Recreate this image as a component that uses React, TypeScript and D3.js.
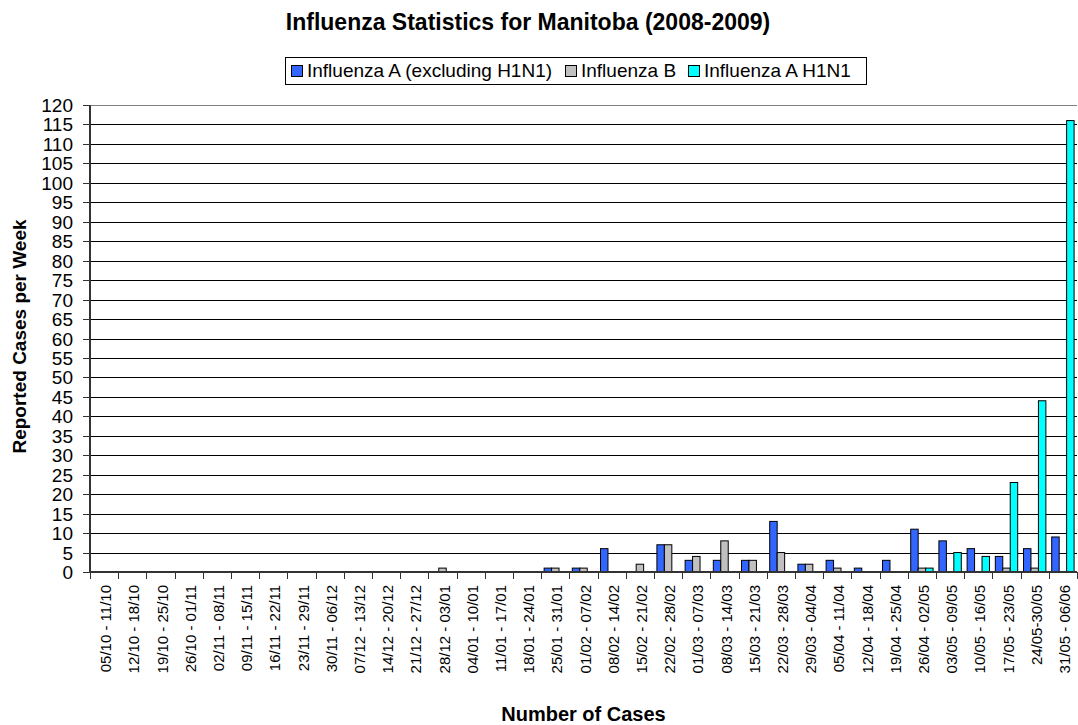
import React from 'react';
import * as d3 from 'd3';

const weeks = [
  '05/10 - 11/10', '12/10 - 18/10', '19/10 - 25/10', '26/10 - 01/11', '02/11 - 08/11',
  '09/11 - 15/11', '16/11 - 22/11', '23/11 - 29/11', '30/11 - 06/12', '07/12 - 13/12',
  '14/12 - 20/12', '21/12 - 27/12', '28/12 - 03/01', '04/01 - 10/01', '11/01 - 17/01',
  '18/01 - 24/01', '25/01 - 31/01', '01/02 - 07/02', '08/02 - 14/02', '15/02 - 21/02',
  '22/02 - 28/02', '01/03 - 07/03', '08/03 - 14/03', '15/03 - 21/03', '22/03 - 28/03',
  '29/03 - 04/04', '05/04 - 11/04', '12/04 - 18/04', '19/04 - 25/04', '26/04 - 02/05',
  '03/05 - 09/05', '10/05 - 16/05', '17/05 - 23/05', '24/05-30/05', '31/05 - 06/06',
];

const fluA = [0, 0, 0, 0, 0, 0, 0, 0, 0, 0, 0, 0, 0, 0, 0, 0, 1, 1, 6, 0, 7, 3, 3, 3, 13, 2, 3, 1, 3, 11, 8, 6, 4, 6, 9];
const fluB = [0, 0, 0, 0, 0, 0, 0, 0, 0, 0, 0, 0, 1, 0, 0, 0, 1, 1, 0, 2, 7, 4, 8, 3, 5, 2, 1, 0, 0, 1, 0, 0, 1, 1, 0];
const h1n1 = [0, 0, 0, 0, 0, 0, 0, 0, 0, 0, 0, 0, 0, 0, 0, 0, 0, 0, 0, 0, 0, 0, 0, 0, 0, 0, 0, 0, 0, 1, 5, 4, 23, 44, 116];

const seriesNames = ['Influenza A (excluding H1N1)', 'Influenza B', 'Influenza A H1N1'];
const seriesColors = ['#3366FF', '#C0C0C0', '#00FFFF'];
const yTicks = d3.range(0, 121, 5);

const W = 1078;
const H = 725;
const left = 90;
const right = 1077;
const top = 105;
const bottom = 572;
const font = 'Arial, "Liberation Sans", sans-serif';

export default function App() {
  const series = [fluA, fluB, h1n1];

  const x = d3.scaleBand<string>().domain(weeks).range([left, right]).padding(0);
  const inner = d3.scaleBand<number>()
    .domain([0, 1, 2])
    .range([0, x.bandwidth()])
    .paddingInner(0)
    .paddingOuter(0.39);
  const y = d3.scaleLinear().domain([0, 120]).range([bottom, top]);

  // legend layout (approx text widths at 19px)
  const legendW = [248, 97, 156];
  const legendX = 285;
  let lx = legendX + 6;
  const legendPos = legendW.map((w) => {
    const p = lx;
    lx += 16 + w + 10;
    return p;
  });
  const boxW = lx - legendX - 4;

  return (
    <svg width={W} height={H} style={{ position: 'absolute', left: 0, top: 0, background: '#fff' }}
      fontFamily={font}>
      <text x={528} y={30} textAnchor="middle" fontSize={23} fontWeight="bold">
        Influenza Statistics for Manitoba (2008-2009)
      </text>

      {/* legend */}
      <rect x={legendX + 0.5} y={57.5} width={boxW} height={27} fill="#fff" stroke="#000" />
      {seriesNames.map((name, i) => (
        <g key={name}>
          <rect x={legendPos[i] + 0.5} y={65.5} width={11} height={11}
            fill={seriesColors[i]} stroke="#000" />
          <text x={legendPos[i] + 16} y={77} fontSize={19}>{name}</text>
        </g>
      ))}

      {/* gridlines */}
      {yTicks.filter((t) => t > 0).map((t) => (
        <line key={t} x1={left} x2={right} y1={Math.round(y(t)) + 0.5} y2={Math.round(y(t)) + 0.5}
          stroke={t === 120 ? '#808080' : '#000'} strokeWidth={1} />
      ))}

      {/* bars */}
      {series.map((vals, si) => (
        <g key={si}>
          {vals.map((v, i) => v > 0 ? (
            <rect key={i}
              x={(x(weeks[i]) as number) + (inner(si) as number)}
              y={y(v)}
              width={inner.bandwidth()}
              height={bottom - y(v)}
              fill={seriesColors[si]} stroke="#000" strokeWidth={1} />
          ) : null)}
        </g>
      ))}

      {/* y axis */}
      <line x1={left} x2={left} y1={top} y2={bottom} stroke="#333" strokeWidth={2} />
      {yTicks.map((t) => (
        <g key={t}>
          <line x1={left - 7} x2={left} y1={Math.round(y(t)) + 0.5} y2={Math.round(y(t)) + 0.5} stroke="#333" />
          <text x={left - 17} y={y(t) + 7} textAnchor="end" fontSize={19}>{t}</text>
        </g>
      ))}

      {/* x axis */}
      <line x1={left} x2={right} y1={bottom} y2={bottom} stroke="#333" strokeWidth={2} />
      {d3.range(weeks.length + 1).map((i) => {
        const xx = Math.round(left + i * x.step()) + 0.5;
        return <line key={i} x1={xx} x2={xx} y1={bottom} y2={bottom + 7} stroke="#333" />;
      })}
      {weeks.map((w) => {
        const cx = (x(w) as number) + x.bandwidth() / 2;
        return (
          <text key={w} transform={`translate(${cx + 7},585) rotate(-90)`} textAnchor="end" fontSize={15}>
            {w}
          </text>
        );
      })}

      <text transform={`translate(26,${(top + bottom) / 2 - 2}) rotate(-90)`} textAnchor="middle"
        fontSize={19} fontWeight="bold">Reported Cases per Week</text>
      <text x={(left + right) / 2} y={721} textAnchor="middle" fontSize={20} fontWeight="bold">
        Number of Cases
      </text>
    </svg>
  );
}
